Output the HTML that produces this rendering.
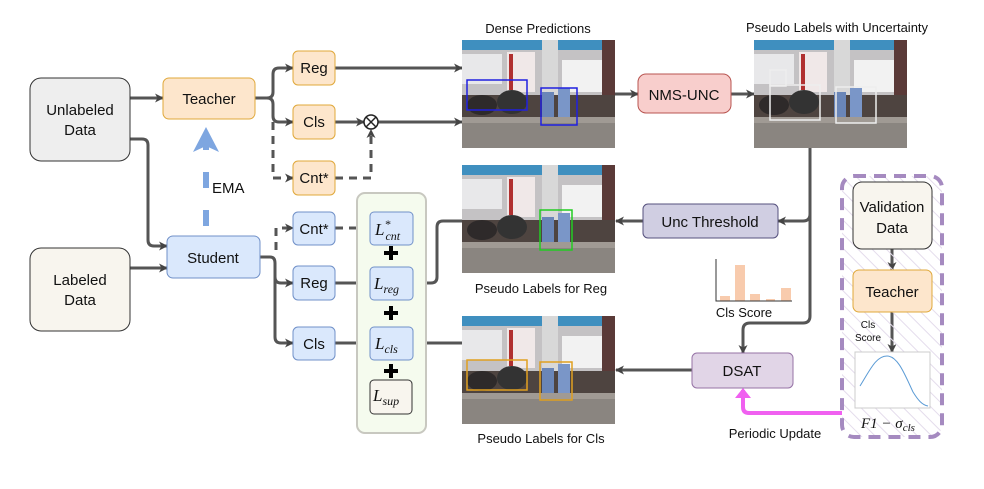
<!DOCTYPE html>
<html><head><meta charset="utf-8"><style>
body{margin:0;background:#fff}
text{font-family:"Liberation Sans",sans-serif;fill:#111}
.m{font-family:"Liberation Serif",serif;font-style:italic}
</style></head><body>
<svg width="984" height="484" viewBox="0 0 984 484" xmlns="http://www.w3.org/2000/svg">
<defs>
<marker id="a" markerWidth="9" markerHeight="9" refX="8" refY="4.5" orient="auto" markerUnits="userSpaceOnUse"><path d="M0,0 L9,4.5 L0,9 L2.5,4.5z" fill="#444"/></marker>
<pattern id="h" width="10" height="10" patternUnits="userSpaceOnUse" patternTransform="rotate(-45)"><line x1="0" y1="0" x2="0" y2="10" stroke="#e4dcec" stroke-width="2"/></pattern>
<g id="ph">
<rect width="153" height="108" fill="#7f7770"/>
<rect width="153" height="55" fill="#c4c2c4"/>
<rect width="153" height="10" fill="#3f8fbf"/>
<rect x="0" y="14" width="40" height="30" fill="#e8e8ea"/>
<rect x="80" width="16" height="70" fill="#d8d8d8"/>
<rect x="100" y="20" width="45" height="32" fill="#f2f2f2"/>
<rect x="45" y="12" width="28" height="40" fill="#f0e8e8"/>
<rect x="47" y="14" width="4" height="36" fill="#b03030"/>
<rect x="140" y="0" width="13" height="60" fill="#5a3a38"/>
<rect y="55" width="153" height="22" fill="#4e4440"/>
<ellipse cx="20" cy="65" rx="15" ry="10" fill="#2e2a2a"/>
<ellipse cx="50" cy="62" rx="15" ry="12" fill="#333"/>
<rect x="80" y="52" width="12" height="30" fill="#6a86b8"/>
<rect x="96" y="48" width="12" height="32" fill="#7a96c8"/>
<rect y="77" width="153" height="31" fill="#8a8580"/>
<rect x="0" y="77" width="153" height="6" fill="#a09a94"/>
</g>
</defs>
<g fill="none" stroke="#555" stroke-width="3">
<path d="M130 98H163" marker-end="url(#a)"/>
<path d="M130 139H142Q148 139 148 145V240Q148 246 154 246H167" marker-end="url(#a)"/>
<path d="M130 268H167" marker-end="url(#a)"/>
<path d="M255 98H267Q273 98 273 92V74Q273 68 279 68H293" marker-end="url(#a)"/>
<path d="M267 98Q273 98 273 104V116Q273 122 279 122H293" marker-end="url(#a)"/>
<path d="M260 257H270Q275 257 275 263V277Q275 283 281 283H293" marker-end="url(#a)"/>
<path d="M275 277V337Q275 343 281 343H293" marker-end="url(#a)"/>
<path d="M335 68H462" marker-end="url(#a)"/>
<path d="M335 122H364" marker-end="url(#a)"/>
<path d="M378 122H462" marker-end="url(#a)"/>
<path d="M335 283H370" marker-end="url(#a)"/>
<path d="M335 343H370" marker-end="url(#a)"/>
<path d="M462 221H443Q437 221 437 227V277Q437 283 431 283H413" marker-end="url(#a)"/>
<path d="M426 228H413" marker-end="url(#a)"/>
<path d="M462 343H413" marker-end="url(#a)"/>
<path d="M615 94H638" marker-end="url(#a)"/>
<path d="M731 94H754" marker-end="url(#a)"/>
<path d="M810 148V214Q810 221 803 221H778" marker-end="url(#a)"/>
<path d="M810 214V316Q810 323 803 323H750Q743 323 743 330V353" marker-end="url(#a)"/>
<path d="M643 221H616" marker-end="url(#a)"/>
<path d="M692 370H616" marker-end="url(#a)"/>
<path d="M892 249V270" marker-end="url(#a)"/>
<path d="M892 312V352" marker-end="url(#a)"/>
</g>
<g fill="none" stroke="#555" stroke-width="3" stroke-dasharray="8,6">
<path d="M273 122V178H293" marker-end="url(#a)"/>
<path d="M276 250V228H293" marker-end="url(#a)"/>
<path d="M335 178H371V130" marker-end="url(#a)"/>
<path d="M335 228H370" marker-end="url(#a)"/>
</g>
<path d="M842 413H749Q743 413 743 407V390" fill="none" stroke="#f060f0" stroke-width="4"/>
<path d="M735 398L743 388L751 398Z" fill="#f060f0"/>
<path d="M206 226V128" stroke="#7ea6e0" stroke-width="6" stroke-dasharray="16,22" fill="none"/>
<path d="M193 152L206 127L219 152L206 146Z" fill="#7ea6e0"/>
<text x="212" y="193" font-size="15">EMA</text>
<rect x="30" y="78" width="100" height="83" rx="11" fill="#eeeeee" stroke="#333"/>
<text x="80" y="115" font-size="15" text-anchor="middle">Unlabeled</text><text x="80" y="135" font-size="15" text-anchor="middle">Data</text>
<rect x="30" y="248" width="100" height="83" rx="11" fill="#f8f5ee" stroke="#333"/>
<text x="80" y="285" font-size="15" text-anchor="middle">Labeled</text><text x="80" y="305" font-size="15" text-anchor="middle">Data</text>
<rect x="163" y="78" width="92" height="41" rx="6" fill="#fde6cc" stroke="#e0a83a"/>
<text x="209" y="104" font-size="15" text-anchor="middle">Teacher</text>
<rect x="167" y="236" width="93" height="42" rx="6" fill="#dae8fc" stroke="#7090c8"/>
<text x="213" y="263" font-size="15" text-anchor="middle">Student</text>
<g font-size="15" text-anchor="middle">
<rect x="293" y="51" width="42" height="34" rx="5" fill="#fde6cc" stroke="#e0a83a"/><text x="314" y="73">Reg</text>
<rect x="293" y="105" width="42" height="34" rx="5" fill="#fde6cc" stroke="#e0a83a"/><text x="314" y="127">Cls</text>
<rect x="293" y="161" width="42" height="34" rx="5" fill="#fde6cc" stroke="#e0a83a"/><text x="314" y="183">Cnt*</text>
<rect x="293" y="212" width="42" height="33" rx="5" fill="#dae8fc" stroke="#7090c8"/><text x="314" y="234">Cnt*</text>
<rect x="293" y="266" width="42" height="34" rx="5" fill="#dae8fc" stroke="#7090c8"/><text x="314" y="288">Reg</text>
<rect x="293" y="327" width="42" height="33" rx="5" fill="#dae8fc" stroke="#7090c8"/><text x="314" y="349">Cls</text>
</g>
<circle cx="371" cy="122" r="7" fill="#fff" stroke="#222" stroke-width="1.5"/>
<path d="M366 117L376 127M376 117L366 127" stroke="#222" stroke-width="1.5"/>
<rect x="357" y="193" width="69" height="240" rx="8" fill="#f5fbee" stroke="#c8c8c0" stroke-width="2"/>
<rect x="370" y="212" width="43" height="33" rx="4" fill="#dae8fc" stroke="#7090c8"/>
<rect x="370" y="267" width="43" height="33" rx="4" fill="#dae8fc" stroke="#7090c8"/>
<rect x="370" y="327" width="43" height="33" rx="4" fill="#dae8fc" stroke="#7090c8"/>
<rect x="370" y="380" width="42" height="34" rx="4" fill="#f8f5ee" stroke="#333"/>
<g class="m" font-size="17">
<text x="375" y="235" class="m">L<tspan font-size="12" dy="-7">*</tspan><tspan font-size="12" dx="-5" dy="12">cnt</tspan></text>
<text x="374" y="289" class="m">L<tspan font-size="12" dy="4">reg</tspan></text>
<text x="375" y="349" class="m">L<tspan font-size="12" dy="4">cls</tspan></text>
<text x="373" y="401" class="m">L<tspan font-size="12" dy="4">sup</tspan></text>
</g>
<g fill="#000"><rect x="384" y="251" width="14" height="4"/><rect x="389" y="246" width="4" height="14"/>
<rect x="384" y="311" width="14" height="4"/><rect x="389" y="306" width="4" height="14"/>
<rect x="384" y="369" width="14" height="4"/><rect x="389" y="364" width="4" height="14"/></g>
<use href="#ph" x="462" y="40"/><use href="#ph" x="754" y="40"/>
<use href="#ph" x="462" y="165"/><use href="#ph" x="462" y="316"/>
<g fill="none" stroke-width="1.5">
<rect x="467" y="80" width="60" height="30" stroke="#2020e0"/><rect x="541" y="88" width="36" height="37" stroke="#2020e0"/>
<rect x="770" y="70" width="16" height="16" stroke="#eee"/><rect x="770" y="85" width="50" height="35" stroke="#eee"/><rect x="836" y="87" width="40" height="36" stroke="#eee"/>
<rect x="540" y="210" width="32" height="40" stroke="#2c2"/>
<rect x="467" y="360" width="60" height="30" stroke="#e0a020"/><rect x="540" y="362" width="32" height="38" stroke="#e0a020"/>
</g>
<g font-size="13" text-anchor="middle">
<text x="538" y="33">Dense Predictions</text>
<text x="837" y="32">Pseudo Labels with Uncertainty</text>
<text x="541" y="293">Pseudo Labels for Reg</text>
<text x="541" y="443">Pseudo Labels for Cls</text>
<text x="744" y="317">Cls Score</text>
<text x="775" y="438">Periodic Update</text>
</g>
<rect x="638" y="74" width="93" height="39" rx="8" fill="#f8cecc" stroke="#b85450"/>
<text x="684" y="100" font-size="15" text-anchor="middle">NMS-UNC</text>
<rect x="643" y="204" width="135" height="34" rx="5" fill="#d0cee2" stroke="#56517e"/>
<text x="710" y="227" font-size="15" text-anchor="middle">Unc Threshold</text>
<rect x="692" y="353" width="101" height="35" rx="5" fill="#e1d5e7" stroke="#9673a6"/>
<text x="742" y="376" font-size="15" text-anchor="middle">DSAT</text>
<g fill="#f8cbad"><rect x="720" y="296" width="10" height="5"/><rect x="735" y="265" width="10" height="36"/><rect x="750" y="294" width="10" height="7"/><rect x="766" y="299" width="9" height="2"/><rect x="781" y="288" width="10" height="13"/></g>
<path d="M716 259V301H792" fill="none" stroke="#333" stroke-width="1"/>
<rect x="842" y="176" width="100" height="261" rx="12" fill="url(#h)" stroke="#a58ac0" stroke-width="4" stroke-dasharray="12,8"/>
<rect x="853" y="182" width="79" height="67" rx="9" fill="#f8f5ee" stroke="#333"/>
<text x="892" y="212" font-size="15" text-anchor="middle">Validation</text><text x="892" y="233" font-size="15" text-anchor="middle">Data</text>
<rect x="853" y="270" width="79" height="42" rx="6" fill="#fde6cc" stroke="#e0a83a"/>
<text x="892" y="297" font-size="15" text-anchor="middle">Teacher</text>
<text x="868" y="328" font-size="10" text-anchor="middle">Cls</text><text x="868" y="341" font-size="10" text-anchor="middle">Score</text>
<rect x="855" y="352" width="75" height="56" fill="#fff" stroke="#ccc"/>
<path d="M860 386C870 370 876 356 887 356C898 356 905 375 913 392C918 400 922 405 928 406" fill="none" stroke="#5b9bd5" stroke-width="1"/>
<text x="861" y="428" font-size="15" class="m">F1 − σ<tspan font-size="11" dy="3">cls</tspan></text>
</svg>
</body></html>
